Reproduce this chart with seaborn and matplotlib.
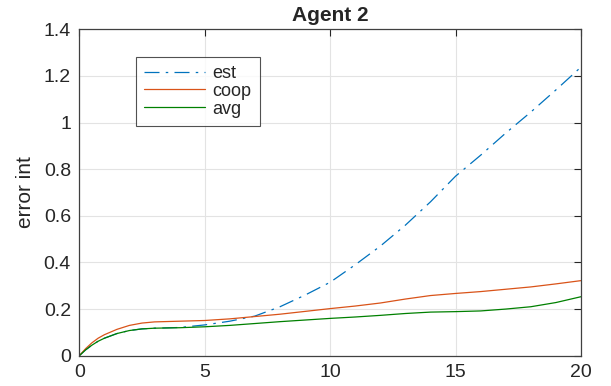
import numpy as np
import pandas as pd
import matplotlib
matplotlib.use("Agg")
import matplotlib.pyplot as plt
import seaborn as sns

# values
t = [0, 0.25, 0.5, 0.75, 1, 1.5, 2, 2.5, 3, 4, 5, 6, 7, 8, 9, 10,
     11, 12, 13, 14, 15, 16, 17, 18, 19, 20]
est = [0, 0.025, 0.045, 0.062, 0.075, 0.095, 0.108, 0.115, 0.118, 0.121, 0.132,
       0.148, 0.170, 0.210, 0.260, 0.315, 0.390, 0.470, 0.560, 0.660, 0.770,
       0.860, 0.955, 1.045, 1.140, 1.238]
coop = [0, 0.03, 0.055, 0.075, 0.09, 0.113, 0.130, 0.140, 0.145, 0.148, 0.151,
        0.158, 0.168, 0.178, 0.190, 0.202, 0.213, 0.226, 0.243, 0.258, 0.267,
        0.275, 0.285, 0.295, 0.308, 0.322]
avg = [0, 0.025, 0.045, 0.062, 0.075, 0.095, 0.108, 0.115, 0.118, 0.120, 0.124,
       0.130, 0.138, 0.146, 0.153, 0.160, 0.166, 0.173, 0.181, 0.187, 0.189,
       0.192, 0.200, 0.210, 0.228, 0.253]

df = pd.DataFrame({"t": t, "est": est, "coop": coop, "avg": avg})

sns.set_theme(style="whitegrid")
plt.rcParams['font.family'] = ['Liberation Sans', 'DejaVu Sans']

fig = plt.figure(figsize=(6.11, 3.86), dpi=100)
ax = fig.add_axes([0.1298, 0.0785, 0.8211, 0.8456])

sns.lineplot(data=df, x="t", y="est", ax=ax, color="#0072BD", lw=0.9, label="est")
sns.lineplot(data=df, x="t", y="coop", ax=ax, color="#D95319", lw=0.9, label="coop")
sns.lineplot(data=df, x="t", y="avg", ax=ax, color="#008000", lw=0.9, label="avg")
ax.lines[0].set_linestyle((0, (12, 5, 2, 5)))

ax.set_xlim(0, 20)
ax.set_ylim(0, 1.4)
ax.set_xticks([0, 5, 10, 15, 20])
ax.set_yticks([0, 0.2, 0.4, 0.6, 0.8, 1, 1.2, 1.4])
ax.set_yticklabels(["0", "0.2", "0.4", "0.6", "0.8", "1", "1.2", "1.4"])
ax.set_xlabel("")
ax.set_ylabel("error int", fontsize=15, color="#262626", labelpad=6)
ax.set_title("Agent 2", fontsize=15, fontweight="bold", pad=6)

ax.grid(True, color="#e3e3e3", lw=0.8)
for s in ax.spines.values():
    s.set_visible(True)
    s.set_color("#404040")
    s.set_linewidth(0.9)
ax.tick_params(direction="in", length=5, width=0.8, top=True, right=True,
               labelsize=14, colors="#262626", pad=6)

leg = ax.legend(loc="upper left", bbox_to_anchor=(0.1124, 0.916), borderaxespad=0,
                fontsize=13, frameon=True, fancybox=False, handlelength=3.4,
                borderpad=0.45, labelspacing=0.05, handletextpad=0.4)
leg.get_frame().set_edgecolor("#262626")
leg.get_frame().set_linewidth(0.8)

fig.savefig("out.png", dpi=100)
